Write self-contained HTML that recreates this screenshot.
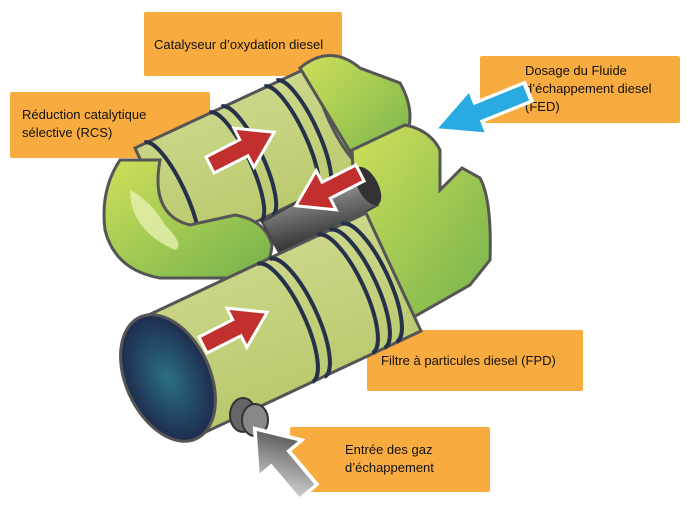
<!DOCTYPE html>
<html><head><meta charset="utf-8"><style>
body{margin:0;width:691px;height:519px;background:#fff;overflow:hidden;position:relative;font-family:"Liberation Sans",sans-serif}
.l{position:absolute;background:#f8ab3e;color:#111;font-size:13px;line-height:18px;box-sizing:border-box;border-radius:2px}
svg{position:absolute;left:0;top:0}
</style></head><body>
<div class="l" style="left:144px;top:12px;width:198px;height:64px;padding:24px 0 0 10px">Catalyseur d’oxydation diesel</div>
<div class="l" style="left:10px;top:92px;width:200px;height:66px;padding:14px 0 0 12px">Réduction catalytique<br>sélective (RCS)</div>
<div class="l" style="left:480px;top:56px;width:200px;height:67px;padding:6px 0 0 45px">Dosage du Fluide<br>d’échappement diesel<br>(FED)</div>
<div class="l" style="left:367px;top:330px;width:216px;height:61px;padding:22px 0 0 14px">Filtre à particules diesel (FPD)</div>
<div class="l" style="left:290px;top:427px;width:200px;height:65px;padding:14px 0 0 55px">Entrée des gaz<br>d’échappement</div>
<svg width="691" height="519" viewBox="0 0 691 519">
<defs>
<linearGradient id="g1" x1="0" y1="0" x2="0.4" y2="1"><stop offset="0" stop-color="#d5de98"/><stop offset="1" stop-color="#b6c768"/></linearGradient>
<linearGradient id="g2" x1="0" y1="0" x2="1" y2="1"><stop offset="0" stop-color="#cfe05a"/><stop offset="1" stop-color="#74b24c"/></linearGradient>
<linearGradient id="gp" x1="0" y1="0" x2="0.3" y2="1"><stop offset="0" stop-color="#eee"/><stop offset="0.5" stop-color="#777"/><stop offset="1" stop-color="#222"/></linearGradient>
<linearGradient id="gg" x1="0" y1="0" x2="1" y2="1"><stop offset="0" stop-color="#eee"/><stop offset="1" stop-color="#333"/></linearGradient>
<radialGradient id="gh" cx="0.5" cy="0.5" r="0.6"><stop offset="0" stop-color="#2b7080"/><stop offset="1" stop-color="#1b1f45"/></radialGradient>
<path id="ru" d="M0,-60 A16 60 0 0 1 0,60" fill="none" stroke="#26304a" stroke-width="4"/>
<path id="rl" d="M0,-65 A20 65 0 0 1 0,65" fill="none" stroke="#26304a" stroke-width="4"/>
<polygon id="ar" points="0,-9 38,-9 38,-22 72,0 38,22 38,9 0,9" stroke="#fff" stroke-width="3"/>
</defs>
<!-- upper tube -->
<g transform="translate(0,-12)">
<g stroke="#555" stroke-width="3">
<polygon points="135,160 320,74 368,180 185,268" fill="url(#g1)"/>
<ellipse cx="344" cy="127" rx="16" ry="60" transform="rotate(-25 344 127)" fill="#a9cf4e"/>
<path d="M300,80 Q330,55 360,80 L400,95 Q420,130 400,160 L360,180 Z" fill="url(#g2)"/>
</g>
<use href="#ru" transform="translate(235,179) rotate(-25)"/>
<use href="#ru" transform="translate(247,173) rotate(-25)"/>
<use href="#ru" transform="translate(290,153) rotate(-25)"/>
<use href="#ru" transform="translate(302,147) rotate(-25)"/>
<use href="#ru" transform="translate(170,209) rotate(-25)"/>
</g>
<!-- elbow -->
<path d="M120,160 Q100,190 105,230 Q115,270 160,278 L240,278 Q270,275 272,245 Q265,220 235,215 L190,225 Q150,215 160,160 Z" fill="url(#g2)" stroke="#555" stroke-width="3"/>
<path d="M130,190 Q130,230 175,250 Q185,245 165,225 Q150,200 130,190Z" fill="#e6f0b0" opacity=".8"/>
<!-- housing -->
<path d="M352,150 L405,125 Q430,130 440,150 L440,190 L462,168 L480,178 Q492,200 490,260 L470,285 L405,322 L360,310 Z" fill="url(#g2)" stroke="#555" stroke-width="3"/>
<!-- pipe -->
<path d="M262,222 L358,168 L378,205 L282,258 Z" fill="url(#gp)" stroke="#444" stroke-width="2"/>
<ellipse cx="368" cy="186" rx="10" ry="21" transform="rotate(-28 368 186)" fill="#333"/>
<!-- lower tube -->
<g stroke="#555" stroke-width="3">
<polygon points="140,319 366,213 421,331 195,437" fill="url(#g1)"/>
<ellipse cx="168" cy="378" rx="42" ry="67" transform="rotate(-25 168 378)" fill="url(#gh)"/>
</g>
<use href="#rl" transform="translate(285,323) rotate(-25)"/>
<use href="#rl" transform="translate(297,318) rotate(-25)"/>
<use href="#rl" transform="translate(345,294) rotate(-25)"/>
<use href="#rl" transform="translate(357,289) rotate(-25)"/>
<use href="#rl" transform="translate(369,283) rotate(-25)"/>
<!-- nozzle -->
<ellipse cx="243" cy="415" rx="13" ry="17" fill="#666" stroke="#333" stroke-width="2"/>
<ellipse cx="255" cy="420" rx="13" ry="16" fill="#888" stroke="#333" stroke-width="2"/>
<!-- red arrows -->
<g fill="#c1302f">
<use href="#ar" transform="translate(210,165) rotate(-27)"/>
<use href="#ar" transform="translate(203,345) rotate(-27)"/>
<use href="#ar" transform="translate(360,173) rotate(153)"/>
</g>
<!-- blue arrow -->
<use href="#ar" fill="#29aae1" transform="translate(528,92) rotate(158) scale(1.4,1.1)"/>
<!-- gray arrow -->
<use href="#ar" fill="url(#gg)" transform="translate(308,492) rotate(230) scale(1.15,1.3)"/>
</svg>
</body></html>
